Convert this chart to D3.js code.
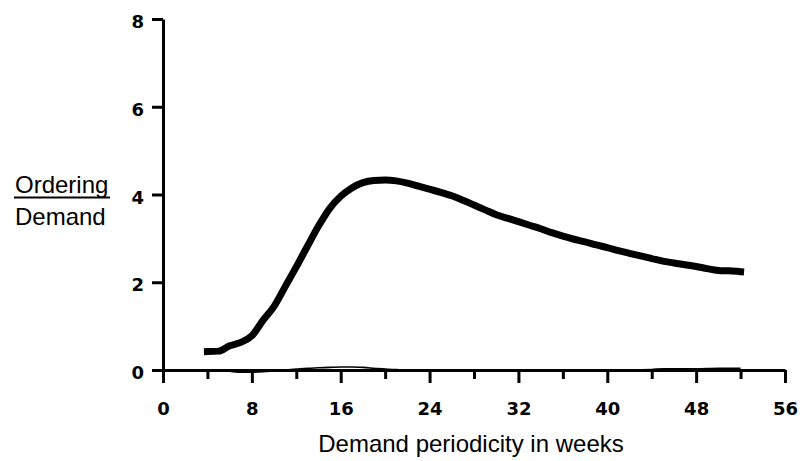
<!DOCTYPE html>
<html>
<head>
<meta charset="utf-8">
<script src="https://cdn.jsdelivr.net/npm/d3@7"></script>
<style>
  html, body { margin: 0; padding: 0; background: #fff; }
  svg { display: block; }
</style>
</head>
<body>
<svg id="chart" width="808" height="461"></svg>
<script>
// ---- data ----
const weeks = [4,5,6,7,8,9,10,11,12,13,14,15,16,17,18,19,20,21,22,23,24,25,26,27,28,29,30,31,32,33,34,35,36,37,38,39,40,41,42,43,44,45,46,47,48,49,50,51,52];
const orderingRatio = [0.42,0.43,0.55,0.63,0.78,1.13,1.45,1.90,2.35,2.82,3.28,3.68,3.96,4.15,4.27,4.32,4.33,4.31,4.26,4.19,4.12,4.05,3.97,3.87,3.76,3.65,3.54,3.46,3.38,3.30,3.22,3.13,3.05,2.98,2.92,2.85,2.79,2.72,2.66,2.60,2.54,2.48,2.44,2.40,2.36,2.31,2.27,2.26,2.24];
const baselineWeeks = [4,5,6,7,8,9,10,11,12,13,14,15,16,17,18,19,20,21,22,26,30,34,38,42,44,45,46,48,50,52];
const baselineValues = [0,-0.01,-0.03,-0.05,-0.05,-0.04,-0.02,0,0.02,0.04,0.05,0.06,0.07,0.07,0.06,0.04,0.02,0.01,0,0,0,0,0,0,0.01,0.03,0.03,0.03,0.04,0.04];
const xTicksMajor = [0,8,16,24,32,40,48,56];
const xTicksMinor = [4,12,20,28,36,44,52];
const yTicks = [0,2,4,6,8];
const xTitle = "Demand periodicity in weeks";
const yTitleTop = "Ordering";
const yTitleBottom = "Demand";

// ---- layout ----
const svg = d3.select("#chart");
const x = d3.scaleLinear().domain([0,56]).range([163,785]);
const y = d3.scaleLinear().domain([0,8]).range([370,19]);
const tickFont = "'DejaVu Sans', Verdana, sans-serif";
const textFont = "'Liberation Sans', Arial, Helvetica, sans-serif";

// minor x ticks
const gMinor = svg.append("g").attr("transform", `translate(0,${y(0)})`)
  .call(d3.axisBottom(x).tickValues(xTicksMinor).tickSize(9).tickSizeOuter(0).tickFormat(""));
gMinor.select(".domain").remove();
gMinor.selectAll("line").attr("stroke","#000").attr("stroke-width",3);

// major x axis
const gx = svg.append("g").attr("transform", `translate(0,${y(0)})`)
  .call(d3.axisBottom(x).tickValues(xTicksMajor).tickSize(13).tickSizeOuter(0));
gx.select(".domain").attr("stroke","#000").attr("stroke-width",3);
gx.selectAll("line").attr("stroke","#000").attr("stroke-width",3);
gx.selectAll("text")
  .attr("y",45).attr("dy",0)
  .attr("fill","#000")
  .style("font-family",tickFont).style("font-size","18px").style("font-weight","bold");

// y axis
const gy = svg.append("g").attr("transform", `translate(${x(0)},0)`)
  .call(d3.axisLeft(y).tickValues(yTicks).tickSize(11).tickSizeOuter(0).tickPadding(8));
gy.select(".domain").attr("stroke","#000").attr("stroke-width",3);
gy.selectAll("line").attr("stroke","#000").attr("stroke-width",3);
gy.selectAll("text")
  .attr("dy","8.5px")
  .attr("fill","#000")
  .style("font-family",tickFont).style("font-size","18px").style("font-weight","bold");

// thin near-zero series
const thinLine = d3.line().x((d,i)=>x(baselineWeeks[i])).y(d=>y(d)).curve(d3.curveMonotoneX);
svg.append("path")
  .attr("d", thinLine(baselineValues))
  .attr("fill","none").attr("stroke","#000").attr("stroke-width",1.6);

// main curve
const mainLine = d3.line().x((d,i)=>x(weeks[i])).y(d=>y(d)).curve(d3.curveMonotoneX);
svg.append("path")
  .attr("d", mainLine(orderingRatio))
  .attr("fill","none").attr("stroke","#000").attr("stroke-width",7)
  .attr("stroke-linejoin","round").attr("stroke-linecap","square");

// axis titles
svg.append("text")
  .attr("x", 471).attr("y", 452)
  .attr("text-anchor","middle")
  .style("font-family",textFont).style("font-size","24px")
  .attr("fill","#000")
  .text(xTitle);

const topT = svg.append("text")
  .attr("x", 15).attr("y", 193)
  .style("font-family",textFont).style("font-size","24px")
  .attr("fill","#000")
  .text(yTitleTop);
const bb = topT.node().getBBox();
svg.append("line")
  .attr("x1", 14).attr("x2", 14 + Math.max(bb.width, 95) + 1)
  .attr("y1", 197.5).attr("y2", 197.5)
  .attr("stroke","#000").attr("stroke-width",1.8);
svg.append("text")
  .attr("x", 15).attr("y", 225)
  .style("font-family",textFont).style("font-size","24px")
  .attr("fill","#000")
  .text(yTitleBottom);
</script>
</body>
</html>
